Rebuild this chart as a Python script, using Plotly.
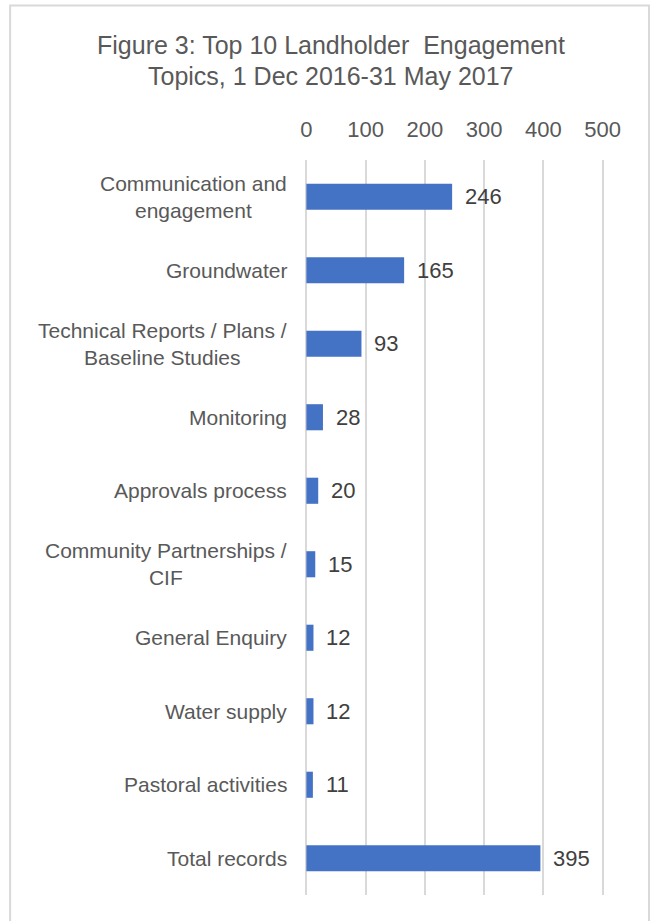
import plotly.graph_objects as go

categories = [
    "Communication and<br>engagement",
    "Groundwater",
    "Technical Reports / Plans /<br>Baseline Studies",
    "Monitoring",
    "Approvals process",
    "Community Partnerships /<br>CIF",
    "General Enquiry",
    "Water supply",
    "Pastoral activities",
    "Total records",
]
values = [246, 165, 93, 28, 20, 15, 12, 12, 11, 395]
tick_vals = [0, 100, 200, 300, 400, 500]
title_lines = ["Figure 3: Top 10 Landholder  Engagement", "Topics, 1 Dec 2016-31 May 2017"]

FONT = "Liberation Sans, Arial, sans-serif"
BAR = "#4472C4"
TXT = "#595959"

# axis 0 -> 306 px, 500 -> 603 px; range padded so edge gridlines are drawn
PAD = 4
SCALE = (603 - 306) / 500
L = 306 - PAD * SCALE
R = 603 + PAD * SCALE
T, B = 160, 895
PW, PH = R - L, B - T

fig = go.Figure()
fig.add_trace(go.Bar(
    x=values, y=categories, orientation="h",
    marker=dict(color=BAR, line=dict(width=0)),
    width=0.355, hoverinfo="skip",
))

annotations = []
for c, v in zip(categories, values):
    annotations.append(dict(
        x=(306 - L) / PW, xref="paper", y=c, yref="y", text=c, showarrow=False,
        xanchor="right", yanchor="middle", align="center", xshift=-17,
        font=dict(family=FONT, size=21, color=TXT),
    ))
    annotations.append(dict(
        x=v, xref="x", y=c, yref="y", text=str(v), showarrow=False,
        xanchor="left", yanchor="middle", xshift=11,
        font=dict(family=FONT, size=22, color="#404040"),
    ))

for ln, cy in zip(title_lines, [45, 76]):
    annotations.append(dict(
        x=(331 - L) / PW, xref="paper", y=1 + (T - cy) / PH, yref="paper",
        text=ln, showarrow=False, xanchor="center", yanchor="middle",
        font=dict(family=FONT, size=25, color=TXT),
    ))

fig.update_layout(
    width=651, height=921,
    margin=dict(l=L, r=651 - R, t=T, b=921 - B),
    paper_bgcolor="white", plot_bgcolor="white",
    showlegend=False,
    xaxis=dict(
        side="top", range=[-PAD, 500 + PAD], tickvals=tick_vals,
        showgrid=True, gridcolor="#d9d9d9", gridwidth=2,
        zeroline=False, showline=False, ticks="",
        tickfont=dict(family=FONT, size=22, color=TXT),
        ticklabelstandoff=18, fixedrange=True,
    ),
    yaxis=dict(
        categoryorder="array", categoryarray=categories,
        autorange="reversed", showticklabels=False, showgrid=False,
        zeroline=False, showline=False, ticks="", fixedrange=True,
    ),
    annotations=annotations,
    shapes=[dict(
        type="rect", xref="paper", yref="paper",
        x0=(9 - L) / PW, x1=(649.5 - L) / PW,
        y0=-0.06, y1=1 + (T - 5.5) / PH,
        line=dict(color="#d9d9d9", width=2), fillcolor="rgba(0,0,0,0)",
        layer="below",
    )],
)

fig.write_html("out.html")
